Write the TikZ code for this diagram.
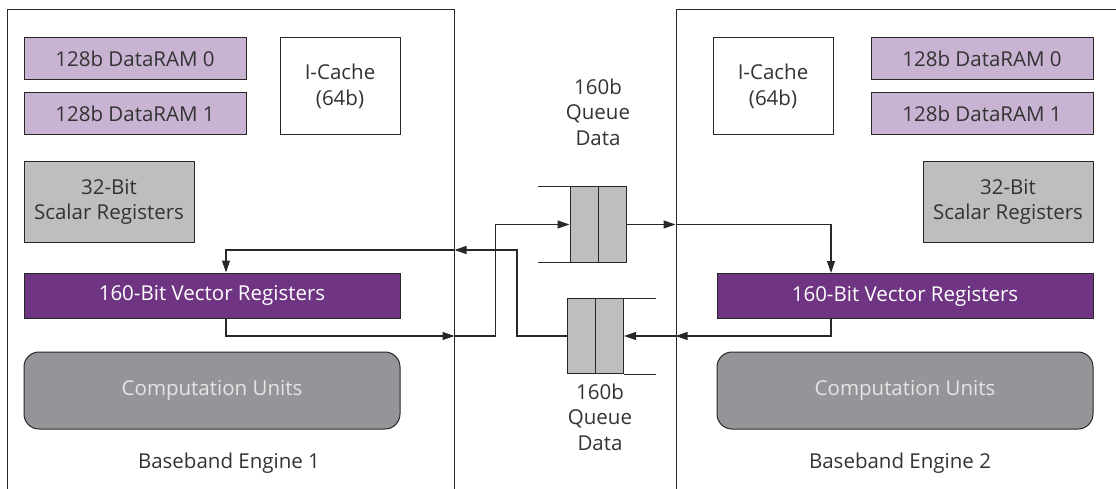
\documentclass[tikz,border=0pt]{standalone}
\usepackage{fontspec}
\setmainfont{Open Sans}
\usetikzlibrary{arrows.meta}

\definecolor{ramcol}{RGB}{200,180,210}
\definecolor{veccol}{RGB}{111,53,130}
\definecolor{scalcol}{RGB}{190,190,193}
\definecolor{compcol}{RGB}{147,149,152}
\definecolor{txtcol}{RGB}{51,51,51}
\definecolor{linecol}{RGB}{40,40,40}

\begin{document}
\begin{tikzpicture}[x=1pt,y=-1pt,
  every node/.style={text=txtcol,font=\fontsize{20.5}{25.5}\selectfont,align=center},
  blk/.style={draw=linecol,line width=1pt,inner sep=0pt},
  ram/.style={blk,fill=ramcol,minimum width=222pt,minimum height=42pt},
  cache/.style={blk,fill=white,minimum width=120pt,minimum height=97pt},
  scal/.style={blk,fill=scalcol,minimum width=170pt,minimum height=80pt},
  vreg/.style={blk,fill=veccol,text=white,minimum width=376pt,minimum height=45pt},
  comp/.style={blk,fill=compcol,text=white!90!black,rounded corners=15pt,minimum width=376pt,minimum height=77pt},
  queue/.style={blk,fill=scalcol,minimum width=56pt,minimum height=75pt},
  frame/.style={blk,minimum height=530pt},
  qline/.style={draw=linecol,line width=1pt},
  arr/.style={draw=linecol,line width=1.1pt,-{Triangle[length=12pt,width=8pt]}}]
  \useasboundingbox (0,0) rectangle (1116,489);
  \clip (0,0) rectangle (1116,489);

  \node[frame,minimum width=447pt] (eng1) at (230.5,275) {};
  \node[frame,minimum width=460pt] (eng2) at (906,275) {};

  \node[ram] (ram0a) at (135,59) {128b DataRAM 0};
  \node[ram] (ram1a) at (135,114) {128b DataRAM 1};
  \node[cache] (cachea) at (340,86.5) {I-Cache\\(64b)};
  \node[scal] (scala) at (109,202) {32-Bit\\Scalar Registers};
  \node[vreg] (veca) at (212,295.5) {160-Bit Vector Registers};
  \node[comp] (compa) at (212,390.5) {Computation Units};
  \node (laba) at (229,463) {Baseband Engine 1};

  \node[cache] (cacheb) at (773,86.5) {I-Cache\\(64b)};
  \node[ram] (ram0b) at (982,59) {128b DataRAM 0};
  \node[ram] (ram1b) at (982,114) {128b DataRAM 1};
  \node[scal] (scalb) at (1008,202) {32-Bit\\Scalar Registers};
  \node[vreg] (vecb) at (905,296) {160-Bit Vector Registers};
  \node[comp] (compb) at (905,390.5) {Computation Units};
  \node (labb) at (900,463) {Baseband Engine 2};

  \node[queue] (q1) at (598,224.5) {};
  \node[queue] (q2) at (595.5,336) {};
  \draw[qline] (q1.north) -- (q1.south) (q1.north west) -- ++(-32,0) (q1.south west) -- ++(-32,0);
  \draw[qline] (q2.north) -- (q2.south) (q2.north east) -- ++(32,0) (q2.south east) -- ++(32,0);
  \node (q1lab) at (598,112) {160b\\Queue\\Data};
  \node (q2lab) at (600,417) {160b\\Queue\\Data};

  \coordinate (lo) at (0,336);
  \coordinate (hi) at (0,250);
  \draw[arr] ([xshift=14pt]veca.south) |- (eng1.east |- lo);
  \draw[arr] (eng1.east |- lo) -- ++(41,0) |- (q1.west);
  \draw[arr] (q1.east) -- (eng2.west |- q1.east);
  \draw[arr] (eng2.west |- q1.east) -| ([xshift=-74pt]vecb.north);
  \draw[arr] ([xshift=-74pt]vecb.south) |- (eng2.west |- lo);
  \draw[arr] (eng2.west |- lo) -- (q2.east);
  \draw[arr] (q2.west) -- ++(-50,0) |- (eng1.east |- hi);
  \draw[arr] (eng1.east |- hi) -| ([xshift=14pt]veca.north);
\end{tikzpicture}
\end{document}
